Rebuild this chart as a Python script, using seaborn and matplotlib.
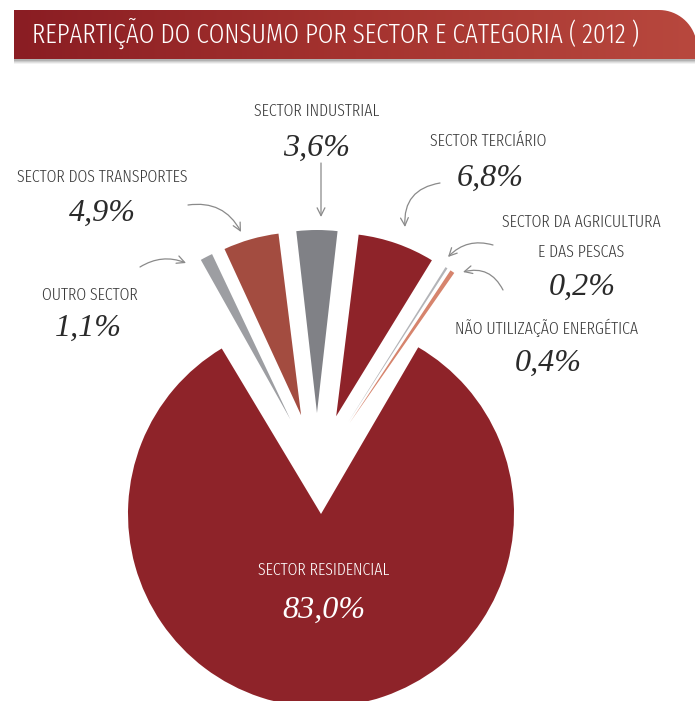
import numpy as np
import matplotlib
matplotlib.use('Agg')
import matplotlib.pyplot as plt
import seaborn as sns
from matplotlib import font_manager as fm
from matplotlib.path import Path
from matplotlib.patches import PathPatch
from matplotlib.colors import LinearSegmentedColormap

# ---------------- data ----------------
categories = ['SECTOR RESIDENCIAL', 'OUTRO SECTOR', 'SECTOR DOS TRANSPORTES',
              'SECTOR INDUSTRIAL', 'SECTOR TERCIÁRIO',
              'SECTOR DA AGRICULTURA\nE DAS PESCAS', 'NÃO UTILIZAÇÃO ENERGÉTICA']
values = [83.0, 1.1, 4.9, 3.6, 6.8, 0.2, 0.4]
value_labels = ['83,0%', '1,1%', '4,9%', '3,6%', '6,8%', '0,2%', '0,4%']
colors = ['#8e2329', '#9d9ea2', '#a34c40', '#808186', '#8e2329', '#b3b4b8', '#d6846d']
title = 'REPARTIÇÃO DO CONSUMO POR SECTOR E CATEGORIA ( 2012 )'

# ---------------- setup ----------------
W, H = 695, 701
sns.set_theme(style='white')
plt.rcParams['font.family'] = ['DejaVu Sans']
palette = sns.color_palette(colors)

fig = plt.figure(figsize=(W / 100, H / 100), dpi=100)
ax = fig.add_axes([0, 0, 1, 1])


def P(x, y):
    """image pixel coords -> data coords (y up)"""
    return (x, H - y)


# pick a condensed sans font if one exists
order = {'ultra-condensed': 0, 'extra-condensed': 1, 'condensed': 2, 'semi-condensed': 3}
best, best_score = None, None
for f in fm.fontManager.ttflist:
    nm = (f.name + ' ' + f.fname).lower()
    if 'mono' in nm or 'serif' in nm or 'cjk' in nm:
        continue
    if f.style != 'normal':
        continue
    st = str(f.stretch)
    flat = nm.replace('-', '').replace(' ', '').replace('_', '')
    is_c = st in order or 'condensed' in flat or 'narrow' in flat
    if not is_c:
        continue
    try:
        w = int(f.weight)
    except Exception:
        w = fm.weight_dict.get(f.weight, 400)
    rank = order.get(st, 2)
    if 'extracondensed' in flat:
        rank = 1
    score = (rank, abs(w - 330))
    if best_score is None or score < best_score:
        best, best_score = f, score
cond_file = best.fname if best is not None else None


def cond_fp(size):
    if cond_file:
        return fm.FontProperties(fname=cond_file, size=size)
    return fm.FontProperties(family='DejaVu Sans', size=size)


def serif_fp(size):
    return fm.FontProperties(family=['Liberation Serif', 'DejaVu Serif'], style='italic', size=size)


renderer = fig.canvas.get_renderer()


def width_px(s, fp):
    w, h, d = renderer.get_text_width_height_descent(s, fp, ismath=False)
    return w


def fit(s, target, fpfun, maxsize):
    w = width_px(s, fpfun(20))
    return min(20 * target / w, maxsize)


lab_size = fit('SECTOR DOS TRANSPORTES', 172, cond_fp, 19)
title_size = fit(title, 608, cond_fp, 23)
pct_size = fit('3,6%', 67, serif_fp, 24)

# ---------------- banner ----------------
left, right, top, bot, r = 14, 697, P(0, 10)[1], P(0, 59)[1], 38
th = np.linspace(np.pi / 2, 0, 20)
arc = np.column_stack([right - r + r * np.cos(th), top - r + r * np.sin(th)])
verts = np.vstack([[left, bot], [left, top], arc, [right, bot], [left, bot]])
codes = [Path.MOVETO] + [Path.LINETO] * (len(verts) - 2) + [Path.CLOSEPOLY]
for k, a in zip([5, 4, 3, 2], [0.05, 0.07, 0.09, 0.12]):
    sh = PathPatch(Path(verts + np.array([0, -k]), codes), facecolor='#000000',
                   edgecolor='none', alpha=a, zorder=1)
    ax.add_patch(sh)
banner = PathPatch(Path(verts, codes), facecolor='none', edgecolor='none', zorder=2)
ax.add_patch(banner)
cmap = LinearSegmentedColormap.from_list('ban', ['#8a1d23', '#a5332f', '#b8483e'])
im = ax.imshow(np.linspace(0, 1, 256).reshape(1, -1), cmap=cmap, aspect='auto',
               extent=(left, right, bot, top), zorder=2)
im.set_clip_path(banner)
ax.text(32, (top + bot) / 2 + 1, title, fontproperties=cond_fp(title_size),
        color='white', ha='left', va='center', zorder=3)

# ---------------- pies ----------------
# residential wedge (other shares left blank = the opening at the top)
ax.pie(values, colors=[palette[0]] + ['none'] * 6, startangle=59.75, counterclock=False,
       radius=193, center=P(321, 514), wedgeprops=dict(linewidth=0))

# exploded small wedges, drawn as true shares of the circle with thin blank separators
gap = 0.6 / 360.0
small_fracs, small_cols, small_expl = [], [], []
for k, (v, c) in enumerate(zip(values[1:], palette[1:])):
    if k > 0:
        small_fracs.append(gap)
        small_cols.append('none')
        small_expl.append(0)
    small_fracs.append(v / 100.0)
    small_cols.append(c)
    small_expl.append(58)
ax.pie(small_fracs, colors=small_cols, startangle=119.3, counterclock=False,
       normalize=False, radius=183, center=P(317, 471), explode=small_expl,
       wedgeprops=dict(linewidth=0))

# ---------------- labels ----------------
lab_col = '#3a3a3a'
pct_col = '#2a2a2a'
label_pos = {
    1: ((90, 295), (88, 328)),
    2: ((102, 177), (102, 213)),
    3: ((317, 111), (317, 148)),
    4: ((488, 141), (490, 178)),
    5: ((581, 222), (582, 287)),
    6: ((547, 328), (548, 363)),
}
for i, ((nx, ny), (px, py)) in label_pos.items():
    for j, line in enumerate(categories[i].split('\n')):
        ax.text(*P(nx, ny + 30 * j), line, fontproperties=cond_fp(lab_size), color=lab_col,
                ha='center', va='center', zorder=5)
    ax.text(*P(px, py), value_labels[i], fontproperties=serif_fp(pct_size), color=pct_col,
            ha='center', va='center', zorder=5)

ax.text(*P(324, 570), categories[0], fontproperties=cond_fp(lab_size), color='white',
        ha='center', va='center', zorder=5)
ax.text(*P(324, 610), value_labels[0], fontproperties=serif_fp(pct_size), color='white',
        ha='center', va='center', zorder=5)

# ---------------- arrows ----------------
arrows = [
    ((140, 267), (186, 263), -0.25),
    ((188, 205), (241, 232), -0.35),
    ((321, 163), (321, 217), 0.0),
    ((440, 183), (405, 227), 0.45),
    ((493, 245), (448, 257), 0.3),
    ((503, 290), (463, 272), 0.4),
]
for (sx, sy), (ex, ey), rad in arrows:
    ax.annotate('', xy=P(ex, ey), xytext=P(sx, sy),
                arrowprops=dict(arrowstyle='->', color='#8a8a8a', lw=0.9,
                                connectionstyle=f'arc3,rad={rad}', shrinkA=0, shrinkB=0,
                                mutation_scale=14), zorder=4)

ax.set_xlim(0, W)
ax.set_ylim(0, H)
ax.set_aspect('auto')
ax.axis('off')
fig.savefig('out.png', dpi=100, facecolor='white')
